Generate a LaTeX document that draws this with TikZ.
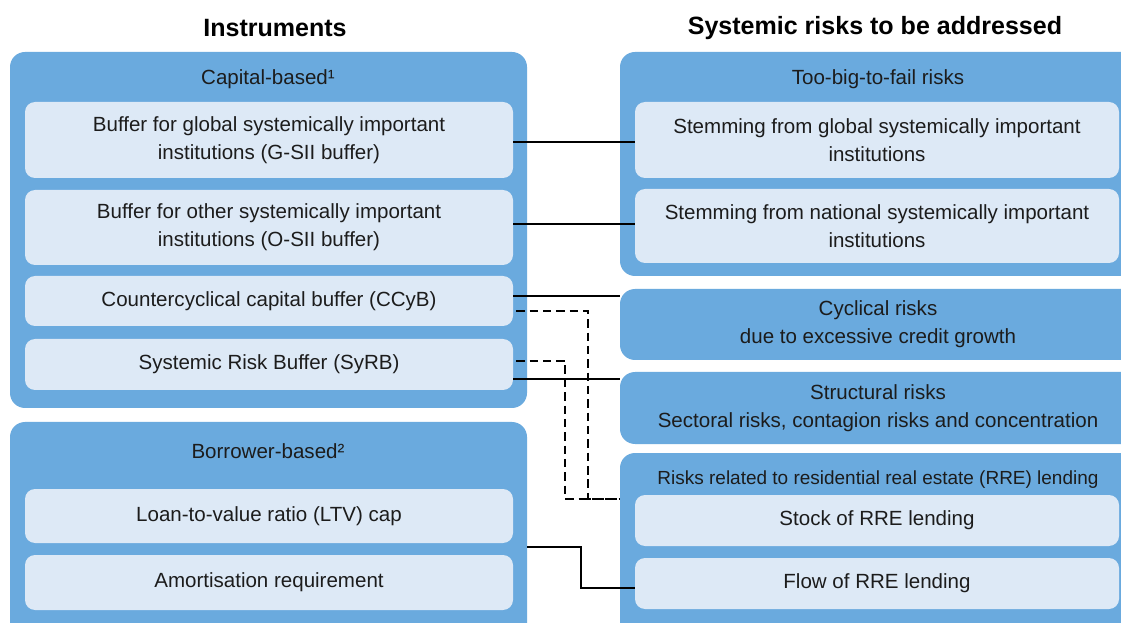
\documentclass[tikz,border=0pt]{standalone}
\usepackage{fontspec}
\setmainfont{Liberation Sans}
\usepackage{xcolor}
\usetikzlibrary{positioning}

\definecolor{groupblue}{RGB}{106,170,222}
\definecolor{itemblue}{RGB}{221,233,246}
\definecolor{inktext}{RGB}{28,28,28}

\newdimen\px \px=0.025cm

\tikzset{
  group/.style={fill=groupblue, rounded corners=15\px, inner sep=0pt},
  item/.style={fill=itemblue, rounded corners=10\px, inner sep=0pt, align=center,
    text=inktext, font=\fontsize{14.6}{19.8}\selectfont},
  grouptitle/.style={text=inktext, font=\fontsize{14.6}{19.8}\selectfont, align=center},
  heading/.style={text=black, font=\fontsize{17.8}{20}\selectfont\bfseries},
  link/.style={line width=1.5pt, black},
  dashlink/.style={link, dash pattern=on 6pt off 3.5pt}
}

\begin{document}
\begin{tikzpicture}[x=\px, y=-\px]
          % Frame
          \clip (0,0) rectangle (1121,623);
          \fill[white] (0,0) rectangle (1121,623);

          % Headings
          \node[heading] (hinstr) at (275,28) {Instruments};
          \node[heading] (hrisk) at (875,28) {Systemic risks to be addressed};

          % Instruments, capital-based
          \node[group, minimum width=517\px, minimum height=356\px] (capital) at (268.5,230) {};
          \node[grouptitle] (capitaltitle) at (268,79) {Capital-based¹};
          \node[item, minimum width=488\px, minimum height=76\px] (gsii) at (269,140)
            {Buffer for global systemically important\\institutions (G-SII buffer)};
          \node[item, minimum width=488\px, minimum height=75\px] (osii) at (269,227.5)
            {Buffer for other systemically important\\institutions (O-SII buffer)};
          \node[item, minimum width=488\px, minimum height=50\px] (ccyb) at (269,301)
            {Countercyclical capital buffer (CCyB)};
          \node[item, minimum width=488\px, minimum height=51\px] (syrb) at (269,364.5)
            {Systemic Risk Buffer (SyRB)};

          % Instruments, borrower-based
          \node[group, minimum width=517\px, minimum height=228\px] (borrower) at (268.5,536) {};
          \node[grouptitle] (borrowertitle) at (268,451) {Borrower-based²};
          \node[item, minimum width=488\px, minimum height=54\px] (ltv) at (269,516)
            {Loan-to-value ratio (LTV) cap};
          \node[item, minimum width=488\px, minimum height=55\px] (amort) at (269,582.5)
            {Amortisation requirement};

          % Risks
          \node[group, minimum width=516\px, minimum height=224\px] (tbtf) at (878,164) {};
          \node[grouptitle] (tbtftitle) at (878,79) {Too-big-to-fail risks};
          \node[item, minimum width=484\px, minimum height=76\px] (gsri) at (877,140)
            {Stemming from global systemically important\\institutions};
          \node[item, minimum width=484\px, minimum height=74\px] (osri) at (877,226)
            {Stemming from national systemically important\\institutions};
          \node[group, grouptitle, minimum width=516\px, minimum height=71\px] (cyclical) at (878,324.5)
            {Cyclical risks\\due to excessive credit growth};
          \node[group, grouptitle, minimum width=516\px, minimum height=72\px] (structural) at (878,408)
            {Structural risks\\Sectoral risks, contagion risks and concentration};
          \node[group, minimum width=516\px, minimum height=197\px] (rre) at (878,551.5) {};
          \node[grouptitle, font=\fontsize{13.5}{16}\selectfont] (rretitle) at (878,479.5)
            {Risks related to residential real estate (RRE) lending};
          \node[item, minimum width=484\px, minimum height=51\px] (stock) at (877,520.5)
            {Stock of RRE lending};
          \node[item, minimum width=484\px, minimum height=51\px] (flow) at (877,583.5)
            {Flow of RRE lending};

          % Solid links
          \draw[link] ([shift={(0,2)}]gsii.east) coordinate (g1) -- (g1 -| gsri.west);
          \draw[link] ([shift={(0,-3.5)}]osii.east) coordinate (o1) -- (o1 -| osri.west);
          \draw[link] ([shift={(0,-5)}]ccyb.east) coordinate (c1) -- (c1 -| cyclical.west);
          \draw[link] ([shift={(0,14.5)}]syrb.east) coordinate (s1) -- (s1 -| structural.west);
          \draw[link] ([shift={(0,11)}]borrower.east) -- ++(54,0) |- ([shift={(0,4.5)}]flow.west);

          % Dashed links into RRE
          \coordinate (rrein) at ([shift={(0,-52.5)}]rre.west);
          \draw[dashlink] ([shift={(3,10)}]ccyb.east) -- ++(72,0) |- (rrein);
          \draw[dashlink] ([shift={(3,-3.5)}]syrb.east) -- ++(49,0) |- (rrein);
\end{tikzpicture}
\end{document}
